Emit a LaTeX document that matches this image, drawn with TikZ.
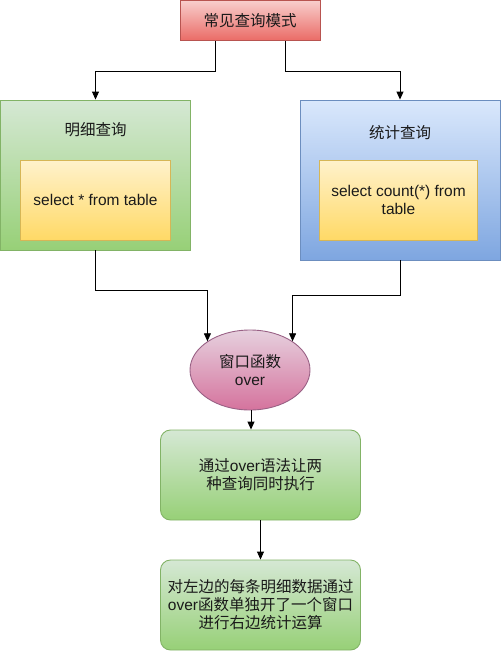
\documentclass[tikz,border=0pt]{standalone}
\usepackage{fontspec}
\setmainfont{Liberation Sans}
\newfontfamily\cjkf{Noto Sans CJK SC}
\usetikzlibrary{shapes.geometric,arrows.meta}
\newcommand\zh[1]{{\cjkf #1}}
\definecolor{txt}{HTML}{1A1A1A}
\tikzset{
  base/.style={draw, line width=0.9pt, align=center, inner sep=1pt, text=txt,
    font=\fontsize{15.5}{18}\selectfont},
  label/.style={base, draw=none},
  greenbig/.style={base, draw={rgb,255:red,130;green,179;blue,102}, top color={rgb,255:red,213;green,232;blue,212}, bottom color={rgb,255:red,151;green,208;blue,119}},
  bluebig/.style={base, draw={rgb,255:red,108;green,142;blue,191}, top color={rgb,255:red,218;green,232;blue,252}, bottom color={rgb,255:red,126;green,166;blue,224}},
  yellowbox/.style={base, draw={rgb,255:red,214;green,182;blue,86}, top color={rgb,255:red,255;green,242;blue,204}, bottom color={rgb,255:red,255;green,217;blue,102}},
  pinkell/.style={base, ellipse, draw={rgb,255:red,153;green,97;blue,133}, top color={rgb,255:red,230;green,208;blue,222}, bottom color={rgb,255:red,213;green,115;blue,157}},
  redbox/.style={base, draw={rgb,255:red,184;green,84;blue,80}, top color={rgb,255:red,248;green,206;blue,204}, bottom color={rgb,255:red,234;green,107;blue,102}},
  greenround/.style={greenbig, rounded corners=10pt},
  arr/.style={draw=black, line width=0.9pt, -{Triangle[length=8pt,width=7pt]}},
}
\begin{document}
\begin{tikzpicture}[x=1pt,y=-1pt]
\useasboundingbox (0,0) rectangle (501,651);
\node[redbox, minimum width=140pt, minimum height=40pt] (top) at (250,20.5) {\zh{常见查询模式}};
\node[greenbig, minimum width=190pt, minimum height=150pt] (left) at (95.5,175) {};
\node[label] (lefttitle) at (95.5,130) {\zh{明细查询}};
\node[yellowbox, minimum width=150pt, minimum height=80pt] (lefti) at (95.5,200) {select * from table};
\node[bluebig, minimum width=200pt, minimum height=160pt] (right) at (400,180) {};
\node[label] (righttitle) at (400,133) {\zh{统计查询}};
\node[yellowbox, minimum width=158pt, minimum height=80pt] (righti) at (398.5,200) {select count(*) from\\table};
\node[pinkell, minimum width=120pt, minimum height=80pt, inner sep=0pt] (ell) at (250,370) {\zh{窗口函数}\\over};
\node[greenround, minimum width=200pt, minimum height=90pt] (b2) at (260.5,475) {\zh{通过}over\zh{语法让两}\\\zh{种查询同时执行}};
\node[greenround, minimum width=200pt, minimum height=90pt] (b3) at (260.5,605) {\zh{对左边的每条明细数据通过}\\over\zh{函数单独开了一个窗口}\\\zh{进行右边统计运算}};
\draw[arr] ([xshift=-35pt]top.south) -- ++(0,30) -| (left.north);
\draw[arr] ([xshift=35pt]top.south) -- ++(0,30) -| (right.north);
\draw[arr] (left.south) -- ++(0,40) -| (ell.146);
\draw[arr] (right.south) -- ++(0,35) -| (ell.34);
\draw[arr] ([xshift=1pt]ell.south) -- ([xshift=1pt]ell.south |- b2.north);
\draw[arr] (b2.south) -- (b3.north);
\end{tikzpicture}
\end{document}
